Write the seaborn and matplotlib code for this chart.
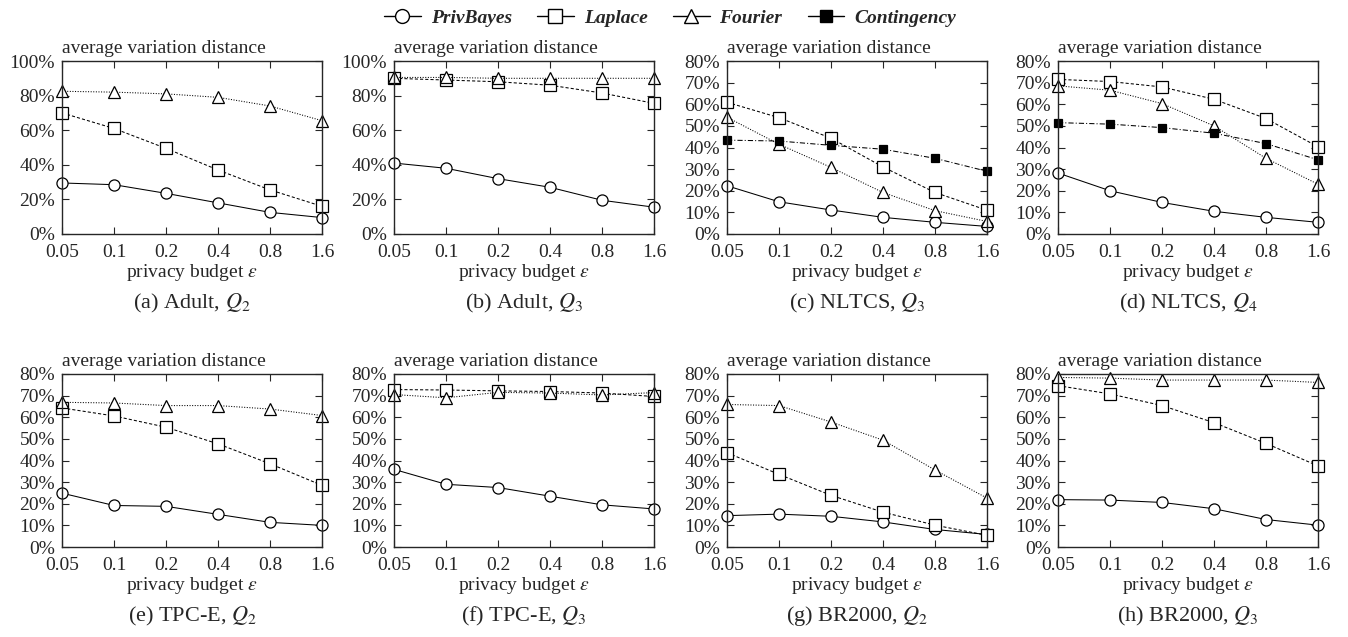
import numpy as np
import pandas as pd
import seaborn as sns
import matplotlib.pyplot as plt
from matplotlib.lines import Line2D
from matplotlib.ticker import FuncFormatter, NullLocator

# privacy budget values on the x axis
eps = [0.05, 0.1, 0.2, 0.4, 0.8, 1.6]
eps_labels = ["0.05", "0.1", "0.2", "0.4", "0.8", "1.6"]

# (a) Adult, Q2
adult_q2_privbayes = [29.5, 28.5, 23.5, 18.0, 12.5, 9.5]
adult_q2_laplace = [70.0, 61.0, 49.5, 37.0, 25.5, 16.0]
adult_q2_fourier = [82.5, 82.0, 81.0, 79.0, 74.0, 65.5]

# (b) Adult, Q3
adult_q3_privbayes = [41.0, 38.0, 32.0, 27.0, 19.5, 15.5]
adult_q3_laplace = [90.0, 89.0, 88.0, 86.0, 81.5, 75.5]
adult_q3_fourier = [90.5, 90.5, 90.0, 90.0, 90.0, 90.0]

# (c) NLTCS, Q3
nltcs_q3_privbayes = [22.3, 14.9, 11.1, 7.7, 5.4, 3.5]
nltcs_q3_laplace = [60.9, 53.8, 44.3, 31.0, 19.2, 11.0]
nltcs_q3_fourier = [54.0, 41.5, 30.8, 19.2, 10.8, 5.8]
nltcs_q3_contingency = [43.4, 43.0, 41.0, 39.2, 35.0, 29.0]

# (d) NLTCS, Q4
nltcs_q4_privbayes = [28.2, 20.0, 14.6, 10.5, 7.7, 5.4]
nltcs_q4_laplace = [71.5, 70.5, 68.0, 62.3, 53.4, 40.3]
nltcs_q4_fourier = [68.5, 66.5, 60.3, 50.0, 35.0, 23.0]
nltcs_q4_contingency = [51.5, 50.8, 49.2, 46.6, 41.8, 34.3]

# (e) TPC-E, Q2
tpce_q2_privbayes = [24.9, 19.2, 18.8, 15.1, 11.4, 10.0]
tpce_q2_laplace = [64.3, 60.6, 55.4, 47.7, 38.5, 28.5]
tpce_q2_fourier = [66.9, 66.6, 65.4, 65.4, 63.8, 60.8]

# (f) TPC-E, Q3
tpce_q3_privbayes = [35.9, 29.0, 27.5, 23.5, 19.5, 17.6]
tpce_q3_laplace = [72.8, 72.6, 72.2, 71.9, 71.2, 69.6]
tpce_q3_fourier = [70.5, 69.0, 71.5, 71.2, 70.3, 71.4]

# (g) BR2000, Q2
br_q2_privbayes = [14.5, 15.2, 14.2, 11.6, 8.1, 5.8]
br_q2_laplace = [43.6, 33.6, 23.9, 16.1, 10.1, 5.4]
br_q2_fourier = [65.9, 65.4, 57.8, 49.4, 35.6, 22.6]

# (h) BR2000, Q3
br_q3_privbayes = [21.9, 21.7, 20.6, 17.7, 12.7, 10.1]
br_q3_laplace = [74.6, 70.8, 65.4, 57.5, 47.9, 37.5]
br_q3_fourier = [78.4, 78.1, 77.2, 77.2, 77.2, 76.1]

sns.set_style("ticks")
plt.rcParams["font.family"] = ["Liberation Serif", "DejaVu Serif"]
plt.rcParams["mathtext.fontset"] = "stix"

styles = {
    "PrivBayes": dict(marker="o", markerfacecolor="white", linestyle="-", markersize=8),
    "Laplace": dict(marker="s", markerfacecolor="white", linestyle=(0, (3, 2)), markersize=8),
    "Fourier": dict(marker="^", markerfacecolor="white", linestyle=(0, (1, 1.5)), markersize=8),
    "Contingency": dict(marker="s", markerfacecolor="black", linestyle=(0, (5, 2, 1, 2)), markersize=6),
}

panels = [
    ("(a) Adult, $Q_2$", 100, 20,
     {"PrivBayes": adult_q2_privbayes, "Laplace": adult_q2_laplace, "Fourier": adult_q2_fourier}),
    ("(b) Adult, $Q_3$", 100, 20,
     {"PrivBayes": adult_q3_privbayes, "Laplace": adult_q3_laplace, "Fourier": adult_q3_fourier}),
    ("(c) NLTCS, $Q_3$", 80, 10,
     {"PrivBayes": nltcs_q3_privbayes, "Laplace": nltcs_q3_laplace, "Fourier": nltcs_q3_fourier,
      "Contingency": nltcs_q3_contingency}),
    ("(d) NLTCS, $Q_4$", 80, 10,
     {"PrivBayes": nltcs_q4_privbayes, "Laplace": nltcs_q4_laplace, "Fourier": nltcs_q4_fourier,
      "Contingency": nltcs_q4_contingency}),
    ("(e) TPC-E, $Q_2$", 80, 10,
     {"PrivBayes": tpce_q2_privbayes, "Laplace": tpce_q2_laplace, "Fourier": tpce_q2_fourier}),
    ("(f) TPC-E, $Q_3$", 80, 10,
     {"PrivBayes": tpce_q3_privbayes, "Laplace": tpce_q3_laplace, "Fourier": tpce_q3_fourier}),
    ("(g) BR2000, $Q_2$", 80, 10,
     {"PrivBayes": br_q2_privbayes, "Laplace": br_q2_laplace, "Fourier": br_q2_fourier}),
    ("(h) BR2000, $Q_3$", 80, 10,
     {"PrivBayes": br_q3_privbayes, "Laplace": br_q3_laplace, "Fourier": br_q3_fourier}),
]

W, H = 1348, 637
fig = plt.figure(figsize=(W / 100, H / 100), dpi=100)

lefts = [62, 394, 727, 1058]
tops = [61, 374]
aw, ah = 260, 173

for i, (caption, ymax, ystep, series) in enumerate(panels):
    r, c = divmod(i, 4)
    ax = fig.add_axes([lefts[c] / W, 1 - (tops[r] + ah) / H, aw / W, ah / H])
    for name, vals in series.items():
        sns.lineplot(x=eps, y=vals, ax=ax, color="black", lw=0.75,
                     markeredgecolor="black", markeredgewidth=0.9, clip_on=False,
                     **styles[name])
    ax.set_xscale("log", base=2)
    ax.set_xlim(eps[0], eps[-1])
    ax.set_xticks(eps)
    ax.set_xticklabels(eps_labels)
    ax.xaxis.set_minor_locator(NullLocator())
    ax.set_ylim(0, ymax)
    ax.set_yticks(np.arange(0, ymax + 1, ystep))
    ax.yaxis.set_major_formatter(FuncFormatter(lambda v, p: f"{int(round(v))}%"))
    ax.tick_params(direction="in", top=True, right=True, length=5, width=0.8,
                   labelsize=14, pad=7)
    ax.tick_params(axis="y", pad=5)
    for s in ax.spines.values():
        s.set_linewidth(1.0)
        s.set_visible(True)
    ax.set_xlabel(r"privacy budget $\varepsilon$", fontsize=14, labelpad=1)
    ax.set_ylabel("")
    ax.text(0, 1.025, "average variation distance", transform=ax.transAxes,
            ha="left", va="bottom", fontsize=14)
    ax.text(0.5, -0.40, caption, transform=ax.transAxes, ha="center", va="center",
            fontsize=16)

legend_names = ["PrivBayes", "Laplace", "Fourier", "Contingency"]
handles = [Line2D([], [], color="black", lw=1.0, marker=styles[n]["marker"],
                  markerfacecolor=styles[n]["markerfacecolor"], markeredgecolor="black",
                  markersize=10 if n != "Contingency" else 8)
           for n in legend_names]
fig.legend(handles, legend_names,
           loc="center", bbox_to_anchor=(0.497, 0.972), ncol=4, frameon=False,
           prop=dict(weight="bold", style="italic", size=14),
           handlelength=1.9, handletextpad=0.5, columnspacing=1.3)

fig.savefig("out.png", dpi=100)
